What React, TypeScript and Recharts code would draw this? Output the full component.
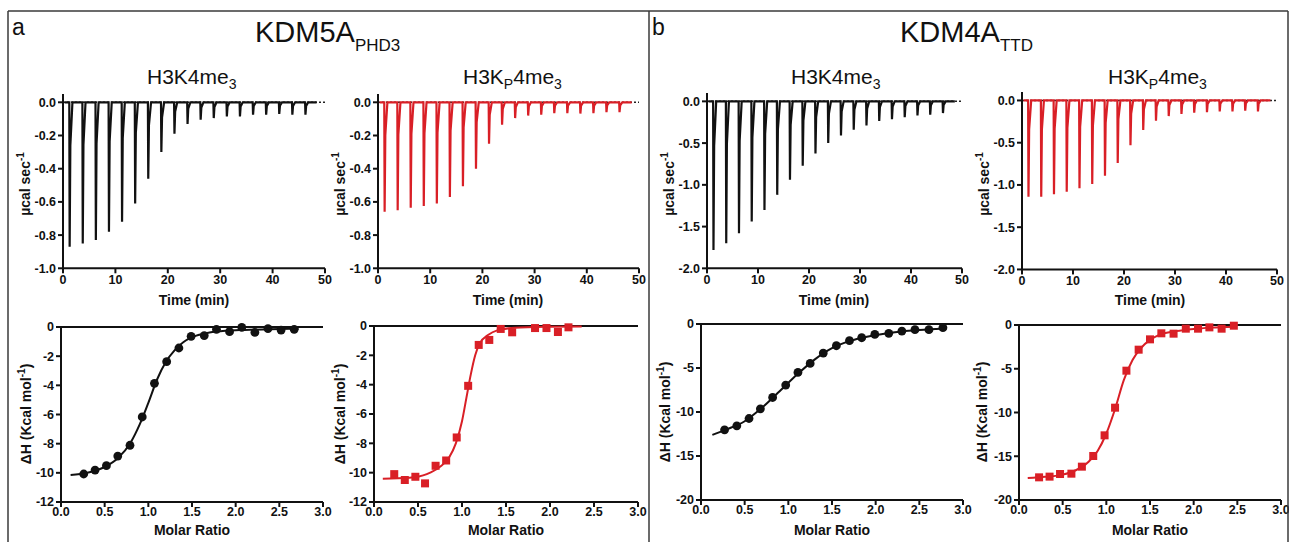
import React from 'react';
import { ComposedChart, Line, Scatter, XAxis, YAxis, ReferenceLine } from 'recharts';

const FONT = 'Arial, "Liberation Sans", Helvetica, sans-serif';
const BLACK = '#111111';
const RED = '#d91f26';

// ---------- Raw thermograms (top row) ----------
const injectionTimes = [1.2, 3.7, 6.2, 8.7, 11.2, 13.7, 16.2, 18.7, 21.2, 23.7, 26.2, 28.7, 31.2, 33.7, 36.2, 38.7, 41.2, 43.7, 46.2];
const timeTicks = [0, 10, 20, 30, 40, 50];

const peaksA1 = [-0.87, -0.85, -0.83, -0.78, -0.72, -0.61, -0.46, -0.30, -0.19, -0.13, -0.105, -0.095, -0.085, -0.085, -0.075, -0.075, -0.07, -0.075, -0.075];
const peaksA2 = [-0.66, -0.65, -0.635, -0.625, -0.61, -0.57, -0.505, -0.40, -0.25, -0.135, -0.095, -0.08, -0.075, -0.065, -0.065, -0.068, -0.065, -0.06, -0.06];
const peaksB1 = [-1.78, -1.70, -1.58, -1.44, -1.30, -1.12, -0.94, -0.77, -0.625, -0.50, -0.41, -0.34, -0.29, -0.235, -0.215, -0.19, -0.17, -0.16, -0.14];
const peaksB2 = [-1.14, -1.14, -1.11, -1.08, -1.04, -0.99, -0.89, -0.74, -0.53, -0.35, -0.24, -0.185, -0.16, -0.145, -0.14, -0.13, -0.13, -0.12, -0.13];

const traceA1 = [0.3, 48.4];
const traceA2 = [0.3, 48.6];
const traceB1 = [0.3, 48.6];
const traceB2 = [0.3, 48.7];

const ticksA_top = [-1, -0.8, -0.6, -0.4, -0.2, 0];
const ticksB_top = [-2, -1.5, -1, -0.5, 0];

// ---------- Integrated isotherms (bottom row) ----------
const ratioTicks = [0, 0.5, 1, 1.5, 2, 2.5, 3];

const a3X = [0.26, 0.39, 0.52, 0.65, 0.79, 0.93, 1.07, 1.21, 1.35, 1.49, 1.64, 1.78, 1.93, 2.07, 2.22, 2.37, 2.52, 2.67];
const a3Y = [-10.08, -9.81, -9.51, -8.85, -8.11, -6.17, -3.86, -2.38, -1.44, -0.64, -0.59, -0.16, -0.32, -0.02, -0.37, -0.11, -0.21, -0.16];
const a3FitX = [0.11, 0.3, 0.5, 0.65, 0.8, 0.9, 1.0, 1.1, 1.2, 1.3, 1.4, 1.5, 1.7, 1.9, 2.1, 2.4, 2.72];
const a3FitY = [-10.15, -10.0, -9.6, -9.0, -7.9, -6.7, -5.2, -3.6, -2.4, -1.6, -1.05, -0.7, -0.38, -0.25, -0.2, -0.15, -0.12];

const a4X = [0.23, 0.35, 0.47, 0.58, 0.70, 0.82, 0.94, 1.07, 1.19, 1.31, 1.44, 1.57, 1.83, 1.96, 2.09, 2.21];
const a4Y = [-10.1, -10.5, -10.28, -10.73, -9.53, -9.17, -7.6, -4.08, -1.29, -0.95, -0.2, -0.43, -0.14, -0.14, -0.41, -0.09];
const a4FitX = [0.1, 0.4, 0.6, 0.75, 0.85, 0.93, 1.0, 1.05, 1.1, 1.15, 1.2, 1.3, 1.4, 1.6, 2.0, 2.36];
const a4FitY = [-10.42, -10.35, -10.1, -9.6, -9.0, -8.0, -6.5, -4.9, -3.3, -2.0, -1.2, -0.6, -0.3, -0.12, -0.05, -0.03];

const b3X = [0.27, 0.41, 0.55, 0.68, 0.82, 0.97, 1.11, 1.25, 1.40, 1.55, 1.70, 1.84, 1.99, 2.15, 2.30, 2.45, 2.61, 2.77];
const b3Y = [-12.03, -11.57, -10.74, -9.64, -8.35, -6.94, -5.50, -4.48, -3.30, -2.47, -1.90, -1.56, -1.18, -1.06, -0.80, -0.65, -0.65, -0.42];
const b3FitX = [0.13, 0.3, 0.5, 0.7, 0.9, 1.1, 1.3, 1.5, 1.7, 1.9, 2.1, 2.3, 2.5, 2.78];
const b3FitY = [-12.6, -11.95, -11.05, -9.5, -7.65, -5.75, -4.05, -2.75, -1.95, -1.45, -1.1, -0.85, -0.68, -0.5];

const b4X = [0.23, 0.35, 0.47, 0.60, 0.72, 0.85, 0.98, 1.10, 1.23, 1.37, 1.50, 1.63, 1.77, 1.91, 2.05, 2.18, 2.32, 2.46];
const b4Y = [-17.41, -17.33, -17.03, -16.99, -16.19, -14.97, -12.61, -9.45, -5.22, -2.82, -1.64, -0.95, -0.99, -0.42, -0.42, -0.27, -0.42, -0.08];
const b4FitX = [0.1, 0.3, 0.5, 0.65, 0.8, 0.9, 1.0, 1.1, 1.2, 1.3, 1.4, 1.5, 1.6, 1.8, 2.0, 2.2, 2.47];
const b4FitY = [-17.5, -17.35, -17.1, -16.6, -15.6, -14.4, -12.4, -9.6, -6.3, -4.0, -2.6, -1.7, -1.15, -0.7, -0.45, -0.3, -0.2];

const ticksA_bot = [-12, -10, -8, -6, -4, -2, 0];
const ticksB_bot = [-20, -15, -10, -5, 0];

// ---------- helpers ----------
const zip = (xs: number[], ys: number[]) => xs.map((x, i) => ({ x, y: ys[i] }));

// spike shape of one injection (time offsets / fraction of peak), styling only
const SPIKE_DT = [0, 0.07, 0.2, 0.6];
const SPIKE_FR = [0, 1, 0.3, 0];

function buildTrace(range: number[], peaks: number[]) {
  const pts: { x: number; y: number }[] = [{ x: range[0], y: 0 }];
  injectionTimes.forEach((t, i) => {
    SPIKE_DT.forEach((dt, k) => pts.push({ x: t + dt, y: peaks[i] * SPIKE_FR[k] }));
  });
  pts.push({ x: range[1], y: 0 });
  return pts;
}

const YW = 60;
const MT = 12;
const MR = 16;
const XH = 30;

const tickStyle = { fill: BLACK, fontSize: 12.5, fontWeight: 700, fontFamily: FONT };
const axisLineStyle = { stroke: BLACK, strokeWidth: 2 };

type ThermoProps = {
  x0: number; x1: number; yZero: number; yBottom: number;
  domain: [number, number]; ticks: number[]; data: { x: number; y: number }[]; color: string;
};

function Thermogram({ x0, x1, yZero, yBottom, domain, ticks, data, color }: ThermoProps) {
  const ppu = (yBottom - yZero) / -domain[0];
  const top = yZero - domain[1] * ppu;
  const w = x1 - x0;
  const h = yBottom - top;
  return (
    <div style={{ position: 'absolute', left: x0 - YW, top: top - MT }}>
      <ComposedChart width={YW + w + MR} height={MT + h + XH} data={data} margin={{ top: MT, right: MR, left: 0, bottom: 0 }}>
        <XAxis type="number" dataKey="x" domain={[0, 50]} ticks={timeTicks} interval={0} height={XH}
          tick={tickStyle} axisLine={axisLineStyle} tickLine={axisLineStyle} tickSize={5} tickMargin={2} />
        <YAxis type="number" dataKey="y" domain={domain} ticks={ticks} interval={0} width={YW}
          tick={tickStyle} axisLine={axisLineStyle} tickLine={axisLineStyle} tickSize={5} tickMargin={2}
          tickFormatter={(v: number) => v.toFixed(1)} />
        <ReferenceLine y={0} stroke="#222" strokeWidth={1.5} strokeDasharray="2 2" />
        <Line type="linear" dataKey="y" stroke={color} strokeWidth={2.2} dot={false} isAnimationActive={false} />
      </ComposedChart>
    </div>
  );
}

type IsoProps = {
  x0: number; x1: number; y0: number; y1: number;
  domain: [number, number]; ticks: number[];
  points: { x: number; y: number }[]; fit: { x: number; y: number }[];
  color: string; square?: boolean;
};

function Isotherm({ x0, x1, y0, y1, domain, ticks, points, fit, color, square }: IsoProps) {
  const w = x1 - x0;
  const h = y1 - y0;
  const shape = (p: any) =>
    square ? (
      <rect x={p.cx - 4} y={p.cy - 4} width={8} height={8} fill={color} />
    ) : (
      <circle cx={p.cx} cy={p.cy} r={4.4} fill={color} />
    );
  return (
    <div style={{ position: 'absolute', left: x0 - YW, top: y0 - MT }}>
      <ComposedChart width={YW + w + MR} height={MT + h + XH} margin={{ top: MT, right: MR, left: 0, bottom: 0 }}>
        <XAxis type="number" dataKey="x" domain={[0, 3]} ticks={ratioTicks} interval={0} height={XH}
          tick={tickStyle} axisLine={axisLineStyle} tickLine={axisLineStyle} tickSize={5} tickMargin={0}
          tickFormatter={(v: number) => v.toFixed(1)} />
        <YAxis type="number" dataKey="y" domain={domain} ticks={ticks} interval={0} width={YW}
          tick={tickStyle} axisLine={axisLineStyle} tickLine={axisLineStyle} tickSize={5} tickMargin={2} />
        <ReferenceLine y={0} stroke={BLACK} strokeWidth={2} />
        <Line data={fit} type="monotone" dataKey="y" stroke={color} strokeWidth={2} dot={false} isAnimationActive={false} />
        <Scatter data={points} dataKey="y" fill={color} shape={shape} isAnimationActive={false} />
      </ComposedChart>
    </div>
  );
}

function SubTitle({ x, kp }: { x: number; kp?: boolean }) {
  const y = 84;
  return kp ? (
    <text x={x} y={y} fontSize={21} fill={BLACK}>
      H3K<tspan dy={5} fontSize={14}>P</tspan>
      <tspan dy={-5}>4me</tspan>
      <tspan dy={5} fontSize={14}>3</tspan>
    </text>
  ) : (
    <text x={x} y={y} fontSize={21} fill={BLACK}>
      H3K4me<tspan dy={5} fontSize={14}>3</tspan>
    </text>
  );
}

function YLabelTop({ x, y }: { x: number; y: number }) {
  return (
    <text transform={`translate(${x},${y}) rotate(-90)`} textAnchor="middle" fontSize={14} fontWeight={700} fill={BLACK}>
      µcal sec<tspan dy={-6} fontSize={10}>-1</tspan>
    </text>
  );
}

function YLabelBot({ x, y }: { x: number; y: number }) {
  return (
    <text transform={`translate(${x},${y}) rotate(-90)`} textAnchor="middle" fontSize={14} fontWeight={700} fill={BLACK}>
      ΔH (Kcal mol<tspan dy={-6} fontSize={10}>-1</tspan>
      <tspan dy={6}>)</tspan>
    </text>
  );
}

function XLabel({ x, y, text }: { x: number; y: number; text: string }) {
  return (
    <text x={x} y={y} textAnchor="middle" fontSize={14} fontWeight={700} fill={BLACK}>{text}</text>
  );
}

export default function App() {
  return (
    <div style={{ position: 'absolute', left: 0, top: 0, width: 1289, height: 542, overflow: 'hidden', background: '#fff', fontFamily: FONT }}>
      <Thermogram x0={63} x1={325} yZero={102} yBottom={268} domain={[-1, 0.05]} ticks={ticksA_top} data={buildTrace(traceA1, peaksA1)} color={BLACK} />
      <Thermogram x0={378} x1={639} yZero={102} yBottom={268} domain={[-1, 0.05]} ticks={ticksA_top} data={buildTrace(traceA2, peaksA2)} color={RED} />
      <Thermogram x0={707} x1={962} yZero={101} yBottom={268} domain={[-2, 0.1]} ticks={ticksB_top} data={buildTrace(traceB1, peaksB1)} color={BLACK} />
      <Thermogram x0={1022} x1={1277} yZero={100} yBottom={269} domain={[-2, 0.1]} ticks={ticksB_top} data={buildTrace(traceB2, peaksB2)} color={RED} />

      <Isotherm x0={61} x1={323} y0={327} y1={502} domain={[-12, 0]} ticks={ticksA_bot} points={zip(a3X, a3Y)} fit={zip(a3FitX, a3FitY)} color={BLACK} />
      <Isotherm x0={374} x1={638} y0={326} y1={502} domain={[-12, 0]} ticks={ticksA_bot} points={zip(a4X, a4Y)} fit={zip(a4FitX, a4FitY)} color={RED} square />
      <Isotherm x0={701} x1={963} y0={324} y1={500} domain={[-20, 0]} ticks={ticksB_bot} points={zip(b3X, b3Y)} fit={zip(b3FitX, b3FitY)} color={BLACK} />
      <Isotherm x0={1019} x1={1281} y0={325} y1={500} domain={[-20, 0]} ticks={ticksB_bot} points={zip(b4X, b4Y)} fit={zip(b4FitX, b4FitY)} color={RED} square />

      <svg width={1289} height={542} style={{ position: 'absolute', left: 0, top: 0, pointerEvents: 'none' }} fontFamily={FONT}>
        <g stroke="#3a3a3a" strokeWidth={1.5}>
          <line x1={8} y1={11} x2={1288} y2={11} />
          <line x1={8} y1={11} x2={8} y2={542} />
          <line x1={649} y1={11} x2={649} y2={542} />
          <line x1={1288} y1={11} x2={1288} y2={542} />
        </g>
        <text x={12} y={35} fontSize={23} fill={BLACK}>a</text>
        <text x={652} y={35} fontSize={23} fill={BLACK}>b</text>

        <text x={255} y={42} fontSize={29} fill={BLACK}>
          KDM5A<tspan dy={9} fontSize={17}>PHD3</tspan>
        </text>
        <text x={900} y={42} fontSize={29} fill={BLACK}>
          KDM4A<tspan dy={9} fontSize={17}>TTD</tspan>
        </text>

        <SubTitle x={147} />
        <SubTitle x={463} kp />
        <SubTitle x={791} />
        <SubTitle x={1108} kp />

        <YLabelTop x={30} y={184} />
        <YLabelTop x={345} y={184} />
        <YLabelTop x={674} y={184} />
        <YLabelTop x={989} y={184} />

        <YLabelBot x={31} y={414} />
        <YLabelBot x={345} y={414} />
        <YLabelBot x={670} y={412} />
        <YLabelBot x={987} y={412} />

        <XLabel x={194} y={305} text="Time (min)" />
        <XLabel x={508} y={305} text="Time (min)" />
        <XLabel x={834} y={305} text="Time (min)" />
        <XLabel x={1150} y={305} text="Time (min)" />

        <XLabel x={192} y={535} text="Molar Ratio" />
        <XLabel x={506} y={535} text="Molar Ratio" />
        <XLabel x={832} y={535} text="Molar Ratio" />
        <XLabel x={1150} y={535} text="Molar Ratio" />
      </svg>
    </div>
  );
}
